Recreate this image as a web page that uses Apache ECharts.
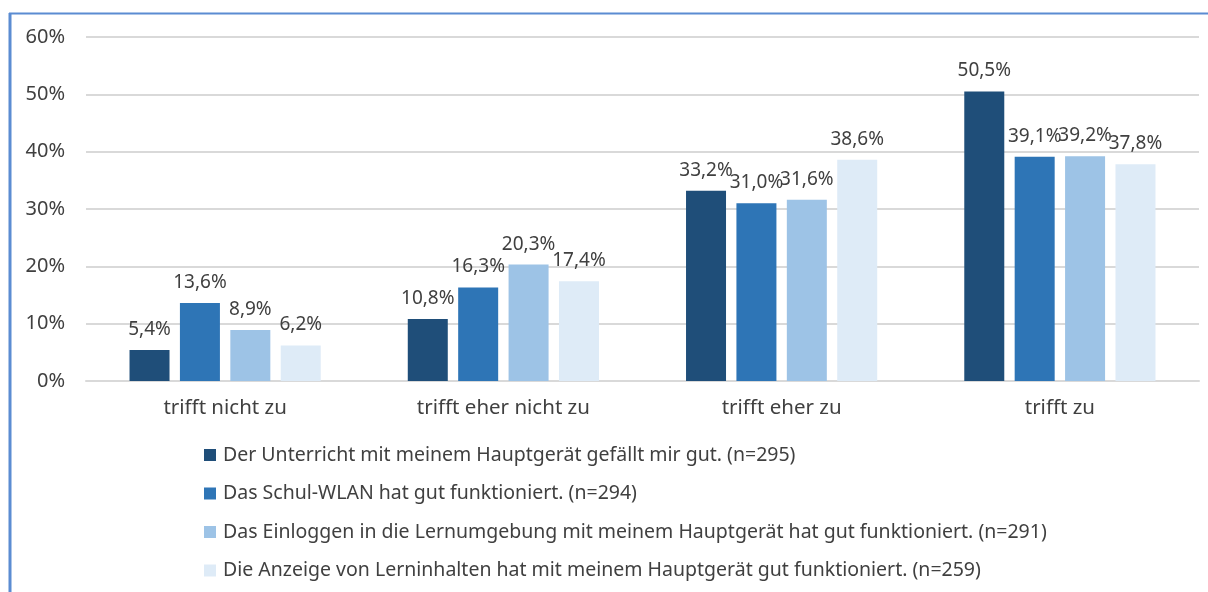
<!DOCTYPE html>
<html><head><meta charset="utf-8">
<script src="https://cdn.jsdelivr.net/npm/echarts@6/dist/echarts.min.js"></script>
<style>html,body{margin:0;padding:0;background:#fff}#c{width:1208px;height:592px}</style>
</head><body><div id="c"></div>
<script>
const categories = ['trifft nicht zu', 'trifft eher nicht zu', 'trifft eher zu', 'trifft zu'];
const seriesNames = [
  'Der Unterricht mit meinem Hauptgerät gefällt mir gut. (n=295)',
  'Das Schul-WLAN hat gut funktioniert. (n=294)',
  'Das Einloggen in die Lernumgebung mit meinem Hauptgerät hat gut funktioniert. (n=291)',
  'Die Anzeige von Lerninhalten hat mit meinem Hauptgerät gut funktioniert. (n=259)'
];
const unterricht = [5.4, 10.8, 33.2, 50.5];
const wlan = [13.6, 16.3, 31.0, 39.1];
const einloggen = [8.9, 20.3, 31.6, 39.2];
const anzeige = [6.2, 17.4, 38.6, 37.8];
const colors = ['#1F4E79', '#2E75B6', '#9DC3E6', '#DEEBF7'];
const FONT = '"Noto Sans", "Open Sans", sans-serif';

const chart = echarts.init(document.getElementById('c'), null, {renderer: 'canvas'});
const fmt = v => v.toFixed(1).replace('.', ',') + '%';
const allData = [unterricht, wlan, einloggen, anzeige];
chart.setOption({
  animation: false,
  textStyle: {fontFamily: FONT},
  color: colors,
  grid: {left: 86, right: 9, top: 37, bottom: 211, containLabel: false},
  xAxis: {
    type: 'category', data: categories,
    axisTick: {show: false},
    axisLine: {lineStyle: {color: '#d9d9d9', width: 2}},
    axisLabel: {color: '#404040', fontSize: 20.5, margin: 17, fontFamily: FONT}
  },
  yAxis: {
    type: 'value', min: 0, max: 60, interval: 10,
    axisLabel: {formatter: v => v + '%', color: '#404040', fontSize: 20, fontFamily: FONT, margin: 21, align: 'right'},
    splitLine: {lineStyle: {color: '#d9d9d9', width: 2}},
    axisLine: {show: false}, axisTick: {show: false}
  },
  legend: {
    orient: 'vertical', left: 199, top: 440, itemGap: 18.5,
    itemWidth: 12, itemHeight: 12, icon: 'rect',
    textStyle: {color: '#404040', fontSize: 19.5, fontFamily: FONT, padding: [0, 0, 0, 2]},
    data: seriesNames
  },
  series: allData.map((d, i) => ({
    name: seriesNames[i], type: 'bar', data: d,
    barWidth: 40, barGap: '26%',
    label: {show: true, position: 'top', distance: 11, formatter: p => fmt(p.value), color: '#404040', fontSize: 19, fontFamily: FONT}
  })),
  graphic: [
    {type: 'line', shape: {x1: 10, y1: 13, x2: 10, y2: 592}, style: {stroke: '#5B8CD2', lineWidth: 3}, z: 100},
    {type: 'line', shape: {x1: 9, y1: 13.5, x2: 1208, y2: 13.5}, style: {stroke: '#5B8CD2', lineWidth: 2}, z: 100}
  ]
});
</script></body></html>
